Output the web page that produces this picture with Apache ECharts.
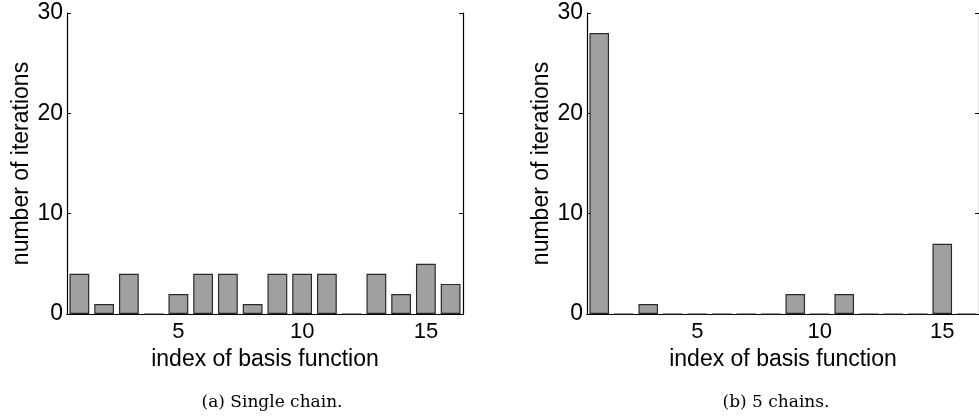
<!DOCTYPE html>
<html><head><meta charset="utf-8">
<script src="https://cdn.jsdelivr.net/npm/echarts@6/dist/echarts.min.js"></script>
<style>html,body{margin:0;padding:0;background:#fff}#c{width:979px;height:417px}</style>
</head><body><div id="c"></div>
<script>
const categories = ['1','2','3','4','5','6','7','8','9','10','11','12','13','14','15','16'];
const singleChain = [4,1,4,0,2,4,4,1,4,4,4,0,4,2,5,3];
const fiveChains = [28,0,1,0,0,0,0,0,2,0,2,0,0,0,7,0];
const yTicks = [0,10,20,30];
const xTickLabels = ['5','10','15'];
const captions = ['(a) Single chain.', '(b) 5 chains.'];
const xName = 'index of basis function';
const yName = 'number of iterations';

const FONT = 'Liberation Sans';
const grids = [
  {left: 67, top: 13, width: 396, height: 301},
  {left: 587, top: 13, width: 397, height: 301}
];
const showTick = (i, v) => xTickLabels.indexOf(String(v)) >= 0;
const xAxes = [], yAxes = [], series = [];
grids.forEach((g, gi) => {
  xAxes.push({
    type: 'category', gridIndex: gi, data: categories, position: 'bottom',
    name: xName, nameLocation: 'middle', nameGap: 27,
    nameTextStyle: {fontFamily: FONT, fontSize: 23, color: '#000'},
    axisLine: {lineStyle: {color: '#000', width: 1.2}},
    axisTick: {inside: true, length: 4, alignWithLabel: true, interval: showTick, lineStyle: {color: '#000'}},
    axisLabel: {interval: showTick, margin: 7, fontFamily: FONT, fontSize: 22, color: '#000'}
  });
  xAxes.push({
    type: 'category', gridIndex: gi, data: categories, position: 'top',
    axisLine: {lineStyle: {color: '#000', width: 1.2}},
    axisTick: {inside: true, length: 4, alignWithLabel: true, interval: showTick, lineStyle: {color: '#000'}},
    axisLabel: {show: false}
  });
  yAxes.push({
    type: 'value', gridIndex: gi, min: 0, max: 30, interval: 10, position: 'left',
    name: yName, nameLocation: 'middle', nameGap: 34,
    nameTextStyle: {fontFamily: FONT, fontSize: 23, color: '#000'},
    splitLine: {show: false},
    axisLine: {show: true, lineStyle: {color: '#000', width: 1.2}},
    axisTick: {show: true, inside: true, length: 4, lineStyle: {color: '#000'}},
    axisLabel: {margin: 4, fontFamily: FONT, fontSize: 23, color: '#000',
      formatter: v => yTicks.indexOf(v) >= 0 ? String(v) : ''}
  });
  yAxes.push({
    type: 'value', gridIndex: gi, min: 0, max: 30, interval: 10, position: 'right',
    splitLine: {show: false},
    axisLine: {show: true, lineStyle: {color: '#000', width: 1.2}},
    axisTick: {show: true, inside: true, length: 4, lineStyle: {color: '#000'}},
    axisLabel: {show: false}
  });
  series.push({
    type: 'bar', xAxisIndex: gi * 2, yAxisIndex: gi * 2,
    data: gi === 0 ? singleChain : fiveChains,
    barWidth: '80%',
    itemStyle: {color: '#a0a0a0', borderColor: '#2a2a2a', borderWidth: 1.2},
    silent: true, animation: false
  });
});

const chart = echarts.init(document.getElementById('c'), null, {renderer: 'canvas'});
chart.setOption({
  animation: false,
  grid: grids,
  xAxis: xAxes,
  yAxis: yAxes,
  series: series,
  graphic: [
    {type: 'text', x: 272, y: 403, style: {text: captions[0], font: '17px "DejaVu Serif"', fill: '#000', align: 'center', verticalAlign: 'middle', textAlign: 'center', textVerticalAlign: 'middle'}},
    {type: 'text', x: 776, y: 403, style: {text: captions[1], font: '17px "DejaVu Serif"', fill: '#000', align: 'center', verticalAlign: 'middle', textAlign: 'center', textVerticalAlign: 'middle'}}
  ]
});
</script></body></html>
